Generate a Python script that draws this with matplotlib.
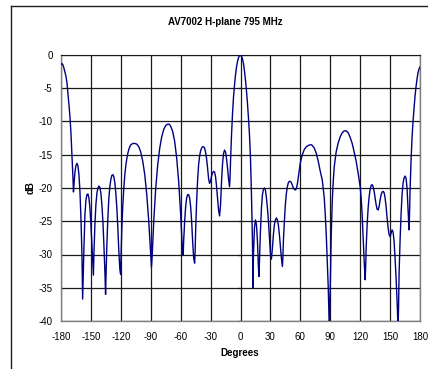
import matplotlib.pyplot as plt
from matplotlib.lines import Line2D

plt.rcParams['font.family'] = ['Liberation Sans', 'DejaVu Sans']
plt.rcParams['axes.unicode_minus'] = False

# angle (degrees) and level (dB)
angle = [
    -180, -179, -178, -177, -176, -175, -174, -173, -172, -171, -170, -169, -168, -167.5, -167,
    -166, -165, -164, -163, -162, -161, -160, -159, -158.3, -157, -156, -155, -154, -153, -152,
    -151, -150, -149, -148, -147.5, -147, -146, -145, -144, -143, -142, -141, -140, -139, -138,
    -137, -136, -135.3, -135, -134, -133, -132, -131, -130, -129, -128, -127, -126, -125, -124,
    -123, -122, -121, -120.2, -120, -119, -118, -117, -116, -115, -114, -113, -112, -111, -110,
    -108, -106, -104, -102, -100, -98, -96, -94, -92, -90, -89.3, -88.5, -87, -85, -83,
    -81, -79, -77, -75, -73, -71.5, -70, -68, -66, -64, -62, -60, -58.5, -57.5, -57,
    -56, -55, -54, -53, -52, -51, -50, -49, -48, -47, -46, -45.5, -45, -44, -43,
    -42, -41, -40, -39, -38, -37, -36, -35, -34, -33, -32, -31, -30, -29, -28,
    -27, -26, -25, -24, -23, -22, -21, -20, -19, -18, -17, -16, -15, -14, -13,
    -12, -11, -10.5, -10, -9, -8, -7, -6, -5, -4, -3, -2, -1, 0, 1,
    2, 3, 4, 5, 6, 7, 8, 9, 10, 11, 12, 12.5, 13, 14, 15,
    16, 17, 18, 18.5, 19, 20, 21, 22, 23, 24, 25, 26, 27, 28, 29,
    30, 31, 32, 33, 34, 35, 36, 37, 38, 39, 40, 41, 42, 42.5, 43,
    44, 45, 46, 47, 48, 49, 50, 51, 52, 53, 54, 55, 56, 57, 58,
    59, 60, 62, 64, 66, 68, 70, 71, 72, 74, 76, 78, 80, 82, 84,
    85, 86, 87, 88, 89, 90, 91, 92, 93, 94, 96, 98, 100, 102, 104,
    106, 108, 110, 112, 114, 116, 118, 120, 121, 122, 123, 124, 125, 125.5, 126,
    127, 128, 129, 130, 131, 132, 133, 134, 135, 136, 137, 138, 139, 140, 141,
    142, 143, 144, 145, 146, 147, 148, 149, 150, 151, 152, 153, 154, 155, 156,
    157, 158, 158.5, 159, 160, 161, 162, 163, 164, 165, 166, 167, 168, 169, 169.5,
    170, 171, 172, 173, 174, 175, 176, 177, 178, 179, 180,
]
level = [
    -1.4, -1.3, -1.5, -2.0, -2.6, -3.2, -4.2, -5.8, -7.5, -9.3, -11.8, -15.0, -18.5, -20.6, -19.5,
    -17.6, -16.6, -16.3, -16.7, -18.0, -20.5, -24.5, -30.0, -36.7, -29.0, -24.0, -21.8, -21.0, -20.9, -21.5,
    -23.0, -25.5, -28.5, -31.5, -33.1, -30.0, -25.5, -22.5, -20.8, -20.0, -19.7, -19.9, -20.8, -22.5, -25.0,
    -28.5, -32.5, -36.0, -34.0, -28.5, -24.5, -21.5, -19.8, -18.7, -18.1, -18.0, -18.3, -19.2, -20.8, -23.0,
    -26.0, -29.5, -32.2, -33.0, -31.5, -26.0, -22.5, -20.0, -18.0, -16.6, -15.6, -14.8, -14.2, -13.8, -13.5,
    -13.3, -13.3, -13.4, -13.8, -14.6, -16.0, -18.0, -21.0, -25.0, -30.0, -31.9, -30.0, -25.0, -20.0, -16.5,
    -14.0, -12.3, -11.2, -10.6, -10.4, -10.4, -10.7, -11.5, -13.0, -15.5, -19.0, -24.0, -28.5, -30.1, -28.0,
    -25.0, -22.8, -21.5, -21.0, -21.0, -21.5, -22.8, -25.0, -28.0, -30.5, -31.3, -29.5, -26.5, -22.0, -18.8,
    -16.5, -15.2, -14.4, -14.0, -13.8, -13.8, -14.0, -14.6, -15.6, -17.0, -18.6, -19.3, -19.0, -18.2, -17.7,
    -17.5, -17.6, -18.3, -19.8, -21.5, -23.3, -24.2, -22.5, -19.0, -16.3, -14.8, -14.3, -14.6, -15.6, -17.0,
    -18.6, -19.8, -18.5, -16.0, -12.0, -8.8, -6.3, -4.5, -3.0, -1.8, -1.0, -0.4, -0.1, 0.0, -0.2,
    -0.6, -1.3, -2.4, -3.8, -5.4, -7.3, -9.5, -12.0, -15.5, -21.0, -28.0, -35.0, -30.0, -26.0, -24.8,
    -25.5, -28.0, -32.0, -33.3, -31.0, -26.5, -23.0, -21.0, -20.2, -20.0, -20.3, -21.5, -23.0, -25.0, -27.5,
    -29.8, -30.7, -29.0, -27.0, -25.5, -24.8, -24.5, -24.8, -25.6, -27.0, -28.8, -30.5, -31.8, -30.5, -28.0,
    -25.0, -22.5, -20.8, -19.8, -19.2, -19.0, -19.0, -19.2, -19.6, -20.0, -20.2, -20.3, -20.1, -19.4, -18.3,
    -17.2, -16.2, -15.0, -14.2, -13.8, -13.6, -13.5, -13.5, -13.6, -14.0, -14.8, -16.0, -17.5, -18.8, -21.5,
    -24.0, -27.0, -31.0, -35.0, -41.0, -35.0, -27.0, -22.0, -19.0, -16.8, -14.5, -13.2, -12.3, -11.7, -11.4,
    -11.4, -11.7, -12.4, -13.3, -14.6, -16.0, -17.8, -19.8, -21.5, -24.0, -27.5, -31.0, -33.8, -32.0, -29.0,
    -25.5, -23.0, -21.3, -20.2, -19.6, -19.5, -19.8, -20.5, -21.5, -22.5, -23.2, -23.3, -22.8, -21.8, -21.0,
    -20.6, -20.5, -20.7, -21.5, -22.8, -24.5, -26.0, -27.0, -27.3, -26.8, -26.3, -26.6, -28.0, -30.5, -33.5,
    -37.0, -41.0, -38.0, -33.0, -28.0, -24.0, -21.0, -19.3, -18.5, -18.2, -18.5, -20.0, -23.0, -26.3, -24.0,
    -20.5, -16.0, -12.5, -10.0, -8.0, -6.2, -4.8, -3.6, -2.7, -2.1, -1.8,
]

xticks = [-180, -150, -120, -90, -60, -30, 0, 30, 60, 90, 120, 150, 180]
yticks = [0, -5, -10, -15, -20, -25, -30, -35, -40]

fig = plt.figure(figsize=(4.28, 3.69), dpi=100)
ax = fig.add_axes([61 / 428, 1 - 321 / 369, 359 / 428, 266 / 369])

ax.plot(angle, level, color='#000080', lw=1.0, zorder=3)

ax.set_xlim(-180, 180)
ax.set_ylim(-40, 0)
ax.set_xticks(xticks)
ax.set_yticks(yticks)
ax.tick_params(length=0, labelsize=7)
ax.tick_params(axis='x', pad=8)
ax.tick_params(axis='y', pad=6)
ax.grid(True, color='#1a1a1a', lw=0.9)
ax.set_axisbelow(True)

# small ticks on the value axis crossing at 0 degrees
ax.hlines(yticks, -2.5, 0, color='#1a1a1a', lw=0.9)

for side in ['left', 'bottom', 'right']:
    ax.spines[side].set_color('#808080')
    ax.spines[side].set_linewidth(1.0)
ax.spines['top'].set_color('#1a1a1a')

fig.text(225 / 428, 1 - 22 / 369, 'AV7002 H-plane 795 MHz', ha='center', va='center',
         fontsize=7, fontweight='bold')
fig.text(240 / 428, 1 - 353 / 369, 'Degrees', ha='center', va='center',
         fontsize=7, fontweight='bold')
fig.text(31 / 428, 1 - 188 / 369, 'dB', ha='center', va='center', rotation=90,
         fontsize=7, fontweight='bold')

# chart area border (left and top edges visible)
fig.add_artist(Line2D([10.5 / 428, 10.5 / 428], [0, 1 - 5.5 / 369], color='#202020', lw=1.0))
fig.add_artist(Line2D([10.5 / 428, 1], [1 - 5.5 / 369, 1 - 5.5 / 369], color='#202020', lw=1.0))

fig.savefig('out.png', dpi=100)
